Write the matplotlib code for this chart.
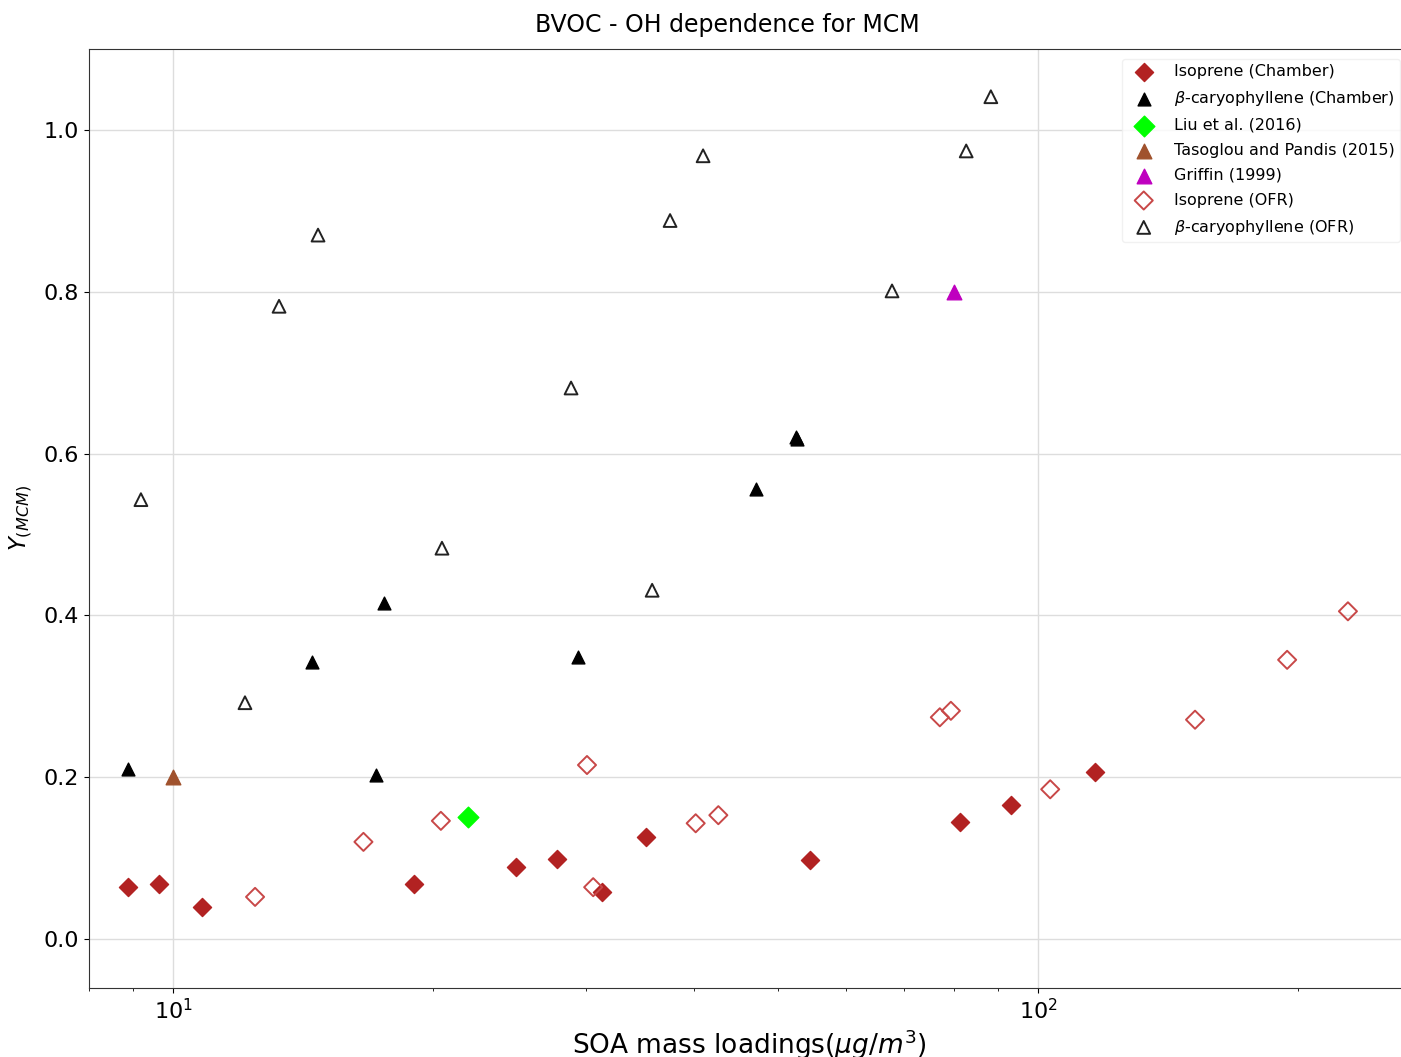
import matplotlib
matplotlib.use('Agg')
import matplotlib.pyplot as plt
import numpy as np

# SOA mass loadings (ug/m3) and yields
iso_ch_x = [8.87, 9.63, 10.8, 19.0, 24.9, 27.8, 31.3, 35.2, 54.5, 81.2, 93.1, 116.4]
iso_ch_y = [0.064, 0.068, 0.040, 0.068, 0.089, 0.099, 0.058, 0.126, 0.098, 0.145, 0.166, 0.206]

bcp_ch_x = [8.87, 14.48, 17.54, 17.17, 29.4, 47.2, 52.5, 52.7]
bcp_ch_y = [0.210, 0.342, 0.415, 0.203, 0.349, 0.556, 0.621, 0.618]

liu_x = [21.9]
liu_y = [0.151]

tasoglou_x = [10.0]
tasoglou_y = [0.200]

griffin_x = [80.0]
griffin_y = [0.800]

iso_ofr_x = [12.44, 16.6, 20.4, 30.1, 30.6, 40.2, 42.7, 77.0, 79.3, 103.3, 151.9, 194.1, 228.2]
iso_ofr_y = [0.052, 0.120, 0.146, 0.215, 0.064, 0.143, 0.153, 0.274, 0.282, 0.185, 0.271, 0.345, 0.405]

bcp_ofr_x = [9.18, 12.11, 13.26, 14.71, 20.46, 28.85, 35.8, 37.55, 41.0, 67.8, 82.6, 88.2]
bcp_ofr_y = [0.543, 0.292, 0.782, 0.870, 0.483, 0.681, 0.431, 0.888, 0.968, 0.801, 0.974, 1.041]

W, H = 1401, 1057
fig = plt.figure(figsize=(W / 100, H / 100), dpi=100)
# axes runs past the right edge of the canvas (as in the cropped original)
left_px, right_px, top_px, bottom_px = 89, 1410, 49, 988
ax = fig.add_axes([left_px / W, 1 - bottom_px / H, (right_px - left_px) / W, (bottom_px - top_px) / H])

ms = 85
ax.scatter(iso_ch_x, iso_ch_y, marker='D', s=ms, color='firebrick', label='Isoprene (Chamber)', zorder=3)
ax.scatter(bcp_ch_x, bcp_ch_y, marker='^', s=ms, color='k', label=r'$\beta$-caryophyllene (Chamber)', zorder=3)
ax.scatter(liu_x, liu_y, marker='D', s=ms * 1.3, color='lime', label='Liu et al. (2016)', zorder=3)
ax.scatter(tasoglou_x, tasoglou_y, marker='^', s=ms * 1.3, color='sienna', label='Tasoglou and Pandis (2015)', zorder=3)
ax.scatter(griffin_x, griffin_y, marker='^', s=ms * 1.3, color='m', label='Griffin (1999)', zorder=3)
ax.scatter(iso_ofr_x, iso_ofr_y, marker='D', s=ms, facecolors='none', edgecolors='#c84848',
           linewidths=1.4, label='Isoprene (OFR)', zorder=3)
ax.scatter(bcp_ofr_x, bcp_ofr_y, marker='^', s=ms, facecolors='none', edgecolors='#222222',
           linewidths=1.4, label=r'$\beta$-caryophyllene (OFR)', zorder=3)

ax.set_xscale('log')
ax.set_xlim(7.995, 269.2)
ax.set_ylim(-0.0606, 1.100)
ax.set_yticks([0.0, 0.2, 0.4, 0.6, 0.8, 1.0])
ax.grid(True, which='major', color='#dddddd', linewidth=1.0)
ax.set_axisbelow(True)
ax.tick_params(axis='both', which='major', labelsize=16)
for s in ax.spines.values():
    s.set_color('#333333')

ax.set_xlabel(r'SOA mass loadings($\mu g/m^3$)', fontsize=19, labelpad=3)
ax.set_ylabel(r'$Y_{(MCM)}$', fontsize=16.5, labelpad=6)
ax.set_title('BVOC - OH dependence for MCM', fontsize=17, pad=12,
             x=(727 - left_px) / (right_px - left_px))

ax.legend(loc='upper right', fontsize=11.5, frameon=True, edgecolor='#eeeeee',
          handletextpad=0.9, borderpad=0.35, labelspacing=0.62, borderaxespad=0.6)

fig.savefig('out.png', dpi=100)
